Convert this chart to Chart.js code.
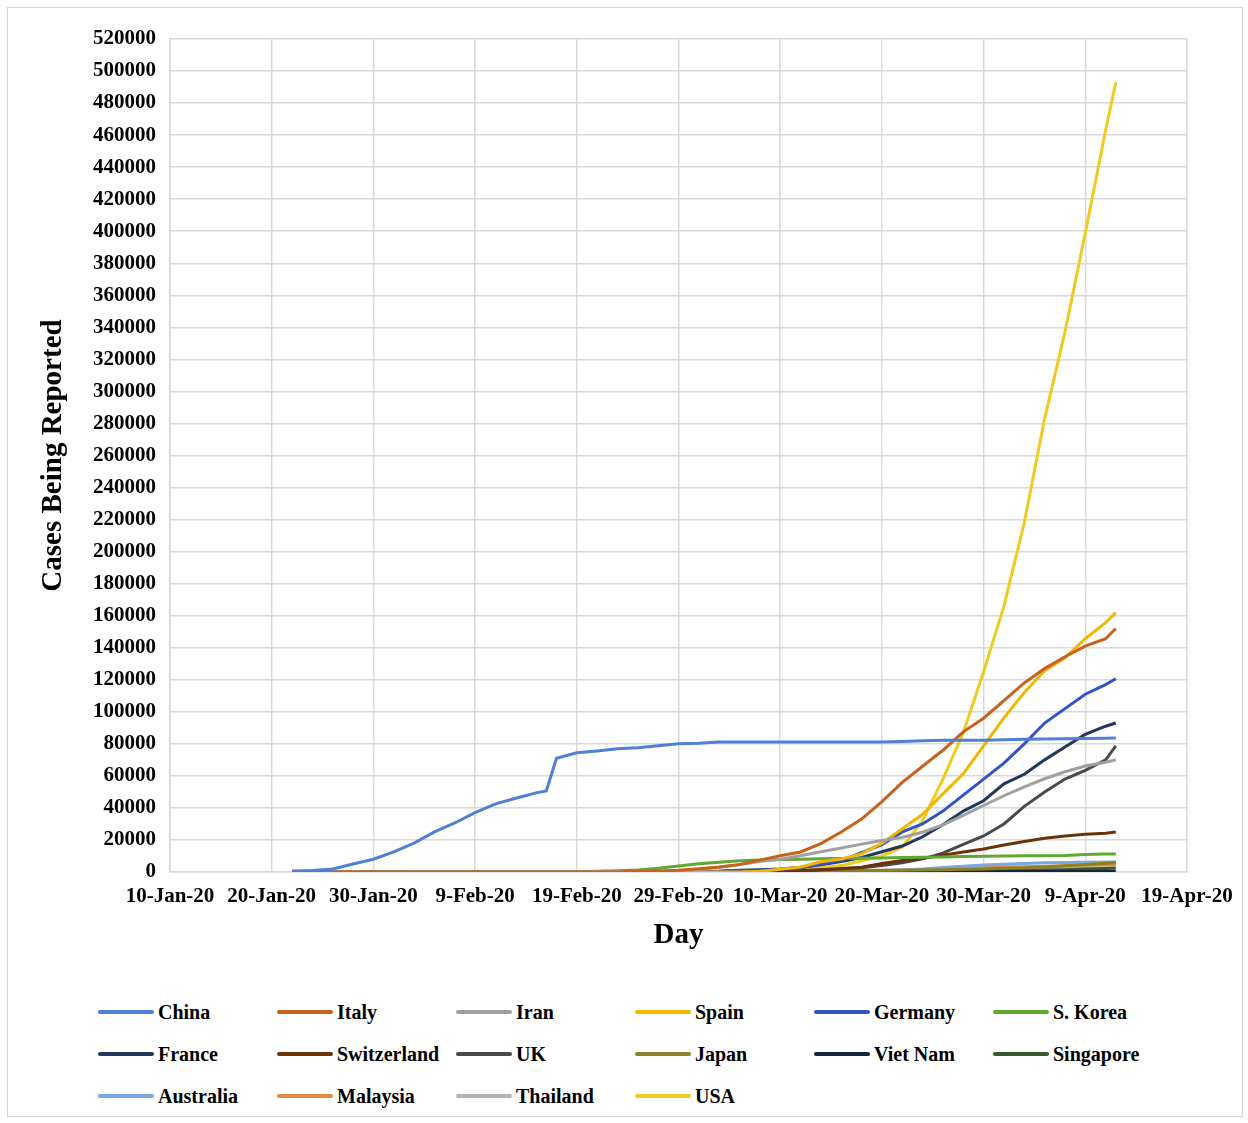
<!DOCTYPE html>
<html>
<head>
<meta charset="utf-8">
<script src="https://cdn.jsdelivr.net/npm/chart.js@4/dist/chart.umd.min.js"></script>
<style>
  html, body { margin: 0; padding: 0; background: #fff; }
  body { width: 1248px; height: 1123px; position: relative; overflow: hidden; font-family: "Liberation Serif", serif; }
  #frame { position: absolute; left: 7px; top: 7px; width: 1234px; height: 1108px; border: 1.5px solid #d4d4d4; }
  #wrap { position: absolute; left: 0; top: 0; width: 1248px; height: 970px; }
  #legend { position: absolute; left: 98px; top: 991px; display: grid; grid-template-columns: repeat(6, 179px); grid-auto-rows: 42px; }
  .item { display: flex; align-items: center; font-weight: bold; font-size: 20px; color: #000; white-space: nowrap; }
  .item span.sw { display: inline-block; width: 56px; height: 4px; margin-right: 4px; border-radius: 2px; }
</style>
</head>
<body>
<div id="frame"></div>
<div id="wrap"><canvas id="covidChart"></canvas></div>
<div id="legend"></div>
<script>
// days counted from 10-Jan-20
var days = [12,14,16,18,20,22,24,26,28,30,32,34,36,37,38,
  40,42,44,46,48,50,52,54,56,58,
  60,62,64,66,68,70,72,74,76,78,
  80,82,84,86,88,90,92,93];

var tickLabels = ['10-Jan-20','20-Jan-20','30-Jan-20','9-Feb-20','19-Feb-20','29-Feb-20',
  '10-Mar-20','20-Mar-20','30-Mar-20','9-Apr-20','19-Apr-20'];

var countries = ['China','Italy','Iran','Spain','Germany','S. Korea',
  'France','Switzerland','UK','Japan','Viet Nam','Singapore',
  'Australia','Malaysia','Thailand','USA'];

var china = [600,1000,1900,5000,8000,12500,18000,25000,30600,37000,42500,46000,49400,50600,71000,
  74400,75600,76900,77500,78750,80000,80300,81200,81200,81200,
  81200,81200,81200,81200,81200,81200,81500,82000,82300,82300,
  82300,82500,82800,83000,83200,83300,83500,83700];
var italy = [0,0,0,0,0,0,0,0,0,0,0,0,0,0,0,
  0,0,0,300,650,1100,2000,3100,4600,7400,
  10100,12500,17700,25000,33000,44000,56000,66000,76000,87500,
  96000,107000,118000,127000,134400,141000,145600,152000];
var iran = [0,0,0,0,0,0,0,0,0,0,0,0,0,0,0,
  0,0,0,0,100,600,1500,2900,4700,6500,
  8000,10100,12700,15000,17400,19600,21600,24800,29400,35400,
  41500,47600,53200,58200,62600,66200,68500,70000];
var spain = [0,0,0,0,0,0,0,0,0,0,0,0,0,0,0,
  0,0,0,0,0,0,0,0,0,400,
  1700,3100,6400,8100,11300,18000,27000,36000,48750,61250,
  78750,96250,112000,125600,133750,145600,155600,162000];
var germany = [0,0,0,0,0,0,0,0,0,0,0,0,0,0,0,
  16,16,16,20,50,80,150,400,800,1100,
  1500,2700,4800,7200,12000,17000,25000,30000,38000,48000,
  58000,68000,80000,93000,102000,111000,117000,120600];
var korea = [1,2,4,11,12,16,19,24,25,27,28,28,29,30,31,
  100,430,830,1260,2300,3700,5200,6100,7000,7500,
  7800,8000,8200,8400,8600,8800,9000,9200,9400,9600,
  9800,10000,10100,10200,10300,11000,11200,11300];
var france = [0,0,3,4,5,6,6,6,6,11,11,11,11,12,12,
  12,12,18,25,60,100,200,400,1100,1400,
  1800,2900,4500,6600,9100,12600,16200,22000,29500,38000,
  44500,55000,61000,70000,78000,86000,91000,93000];
var switzerland = [0,0,0,0,0,0,0,0,0,0,0,0,0,0,0,
  0,0,0,1,8,18,30,90,200,330,
  650,860,1400,2200,3000,5300,7200,8500,10500,12500,
  14400,16800,19000,21000,22500,23500,24200,24900];
var uk = [0,0,0,0,0,0,2,2,3,8,9,9,9,9,9,
  9,9,9,13,20,23,40,90,200,270,
  380,600,1400,1950,2700,4000,5700,8200,11800,17300,
  22500,30000,41000,50000,58000,63500,70000,78750];
var japan = [2,2,2,4,11,15,20,25,25,26,28,29,43,59,66,
  94,110,147,170,210,240,270,360,420,500,
  580,640,720,820,880,960,1100,1200,1400,1700,
  1900,2400,2600,3100,3900,4700,5500,6000];
var vietnam = [0,0,2,2,2,2,6,10,10,10,10,14,16,16,16,
  16,16,16,16,16,16,16,16,21,30,
  31,39,47,61,76,91,113,123,153,174,
  203,218,237,245,249,251,257,257];
var singapore = [0,3,7,10,13,18,24,30,33,43,47,58,72,75,77,
  84,86,89,91,96,102,110,117,138,160,
  166,187,226,266,313,385,455,558,683,802,
  879,1000,1114,1309,1481,1910,2108,2299];
var australia = [0,0,4,4,9,12,12,15,15,15,15,15,15,15,15,
  15,15,15,22,25,25,33,55,80,90,
  110,130,250,370,570,870,1300,1900,2800,3600,
  4300,4900,5300,5700,5900,6100,6200,6300];
var malaysia = [0,0,4,7,8,10,14,16,18,18,18,22,22,22,22,
  22,22,22,22,25,25,29,50,100,110,
  130,200,430,670,900,1030,1300,1620,2000,2320,
  2770,3100,3330,3660,3960,4230,4350,4530];
var thailand = [4,5,8,14,19,25,25,32,33,33,35,35,35,35,35,
  35,35,35,37,40,42,43,47,50,50,
  53,60,80,150,210,320,600,830,1050,1240,
  1520,1770,2060,2220,2370,2470,2550,2580];
var usa = [1,2,5,5,6,8,12,12,12,12,13,13,15,15,15,
  15,15,50,60,60,70,100,220,400,600,
  900,1600,2700,4000,7000,10000,15500,32000,58000,87000,
  125000,166000,218000,283000,337000,399000,463000,493000];

var colors = ['#4f7fd6','#c9601c','#a0a0a0','#f0b800','#3352c8','#5fa832',
  '#22375e','#6b3408','#4a4a4a','#8a8223','#17233f','#385a2a',
  '#7aa7e3','#e08a45','#b5b5b5','#efcb1f'];

(function () {
  'use strict';

  var series = [china, italy, iran, spain, germany, korea, france, switzerland,
    uk, japan, vietnam, singapore, australia, malaysia, thailand, usa];

  var datasets = countries.map(function (name, i) {
    return {
      label: name,
      data: series[i].map(function (v, j) { return { x: days[j], y: v }; }),
      borderColor: colors[i],
      backgroundColor: colors[i],
      borderWidth: 3,
      pointRadius: 0,
      tension: 0,
      fill: false
    };
  });

  var tickFont = { family: '"Liberation Serif", serif', size: 21, weight: 'bold' };
  var titleFont = { family: '"Liberation Serif", serif', size: 29, weight: 'bold' };

  var ctx = document.getElementById('covidChart').getContext('2d');
  var chart = new Chart(ctx, {
    type: 'line',
    data: { datasets: datasets },
    options: {
      responsive: true,
      maintainAspectRatio: false,
      animation: false,
      layout: { padding: { left: 35, right: 61, top: 39, bottom: 0 } },
      plugins: { legend: { display: false }, tooltip: { enabled: false } },
      scales: {
        x: {
          type: 'linear',
          min: 0,
          max: 100,
          afterFit: function (s) { s.height = 98; },
          ticks: {
            stepSize: 10,
            autoSkip: false,
            maxRotation: 0,
            padding: 12,
            color: '#000',
            font: tickFont,
            callback: function (v) { return tickLabels[Math.round(v / 10)]; }
          },
          grid: { color: '#d9d9d9', lineWidth: 1.5, drawTicks: false },
          border: { color: '#d9d9d9', width: 1.5 },
          title: { display: true, text: 'Day', color: '#000', font: titleFont, padding: { top: 0, bottom: 17 } }
        },
        y: {
          min: 0,
          max: 520000,
          afterFit: function (s) { s.width = 135; },
          ticks: {
            stepSize: 20000,
            padding: 14,
            color: '#000',
            font: tickFont,
            callback: function (v) { return String(v); }
          },
          grid: { color: '#d9d9d9', lineWidth: 1.5, drawTicks: false },
          border: { color: '#d9d9d9', width: 1.5 },
          title: { display: true, text: 'Cases Being Reported', color: '#000', font: titleFont, padding: { top: 1, bottom: 0 } }
        }
      }
    }
  });

  // legend grid built from the chart's datasets
  var box = document.getElementById('legend');
  chart.data.datasets.forEach(function (ds) {
    var item = document.createElement('div');
    item.className = 'item';
    var sw = document.createElement('span');
    sw.className = 'sw';
    sw.style.background = ds.borderColor;
    item.appendChild(sw);
    item.appendChild(document.createTextNode(ds.label));
    box.appendChild(item);
  });
}());
</script>
</body>
</html>
